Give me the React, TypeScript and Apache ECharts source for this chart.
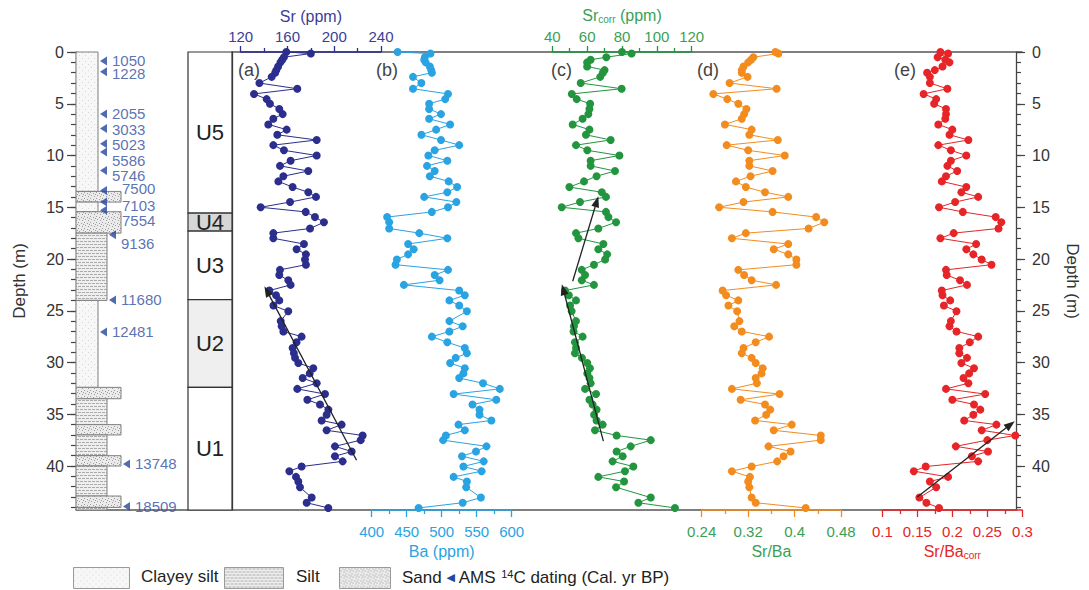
import React, { useEffect, useRef } from 'react';
import * as echarts from 'echarts';

// ---------- DATA ----------
const depth = [
  0, 0.15, 0.5, 0.75, 1.0, 1.4, 1.75, 2.0, 2.4, 3.0,
  3.55, 4.05, 4.55, 5.0, 5.5, 6.0, 6.45, 7.0, 7.5, 8.0,
  8.5, 9.0, 9.5, 10.0, 10.5, 11.0, 11.5, 12.0, 12.5, 13.05,
  13.55, 14.0, 14.5, 15.0, 15.45, 15.95, 16.45, 17.05, 17.5, 18.0,
  18.55, 19.05, 19.55, 20.05, 20.55, 21.05, 21.55, 22.05, 22.5, 23.05,
  23.5, 24.0, 24.5, 25.05, 26.0, 26.5, 27.0, 27.5, 28.05, 28.6,
  29.1, 29.55, 30.05, 30.55, 31.05, 31.5, 32.0, 32.55, 33.05, 33.6,
  34.05, 34.55, 35.05, 35.6, 36.0, 36.55, 37.05, 37.5, 38.1, 38.6,
  39.05, 39.55, 40.05, 40.5, 41.05, 41.5, 42.05, 43.05, 43.55, 44.05,
];
const sr = [
  159, 180, 157, 155.5, 154, 152, 150.5, 149.5, 146.5, 136,
  168.4, 131.4, 142.2, 145, 153, 155.9, 147.9, 143.6, 159.3, 151.3,
  185, 147.9, 157, 185, 162.7, 153.6, 177.8, 156.5, 152.2, 164.4,
  177.8, 184.4, 162.2, 137.1, 175.6, 183.5, 191.2, 179.3, 147.9, 147.9,
  174.1, 167.8, 175.8, 175, 175.8, 153.6, 153, 160.7, 162.7, 144.5,
  150.2, 153, 148, 160.7, 154.2, 155, 156.5, 172.1, 167.8, 164.4,
  165.5, 166.5, 169.3, 182.1, 179, 173, 185, 168.4, 192.1, 177,
  187.8, 195, 193.5, 189.2, 206.3, 193.5, 224.3, 222.6, 200.6, 214.9,
  200.6, 207.2, 172.1, 161.6, 167.3, 169.3, 170.7, 180.7, 176.4, 194.9,
];
const ba = [
  437, 484, 476, 475, 477, 483, 485, 486, 459, 471,
  459, 509, 505, 482, 482, 499, 482, 512, 492, 471,
  499, 525, 490, 481, 508, 479, 490, 483, 510, 522,
  508, 475, 521, 509, 486, 422, 425, 425, 468, 508,
  452, 460, 452, 436, 434, 509, 490, 497, 446, 525,
  533, 511, 525, 536, 511, 530, 511, 486, 508, 533,
  536, 520, 512, 533, 531, 525, 559, 583, 517, 578,
  544, 554, 554, 571, 524, 533, 506, 502, 564, 549,
  529, 560, 531, 557, 517, 536, 535, 556, 530, 467,
];
const srCorr = [
  80, 85.5, 71, 62, 60, 60, 70, 69, 67.5, 56.3,
  79.8, 51.2, 54, 61.7, 61.3, 60.7, 57.4, 51.7, 61.3, 59.3,
  73.5, 53.6, 60.1, 78.5, 62, 62, 76, 65.4, 58.2, 49.8,
  68.4, 70.8, 55.9, 45.4, 70.8, 72.2, 76.6, 66.4, 53.6, 55,
  69.3, 66.4, 71.5, 70.3, 63.9, 56.9, 58.8, 56.9, 63.9, 47.3,
  49.5, 53.6, 50.2, 51.1, 53.6, 52.4, 52.2, 57.4, 53, 53.6,
  53, 57, 60.1, 61.6, 60.1, 61.3, 62, 58.8, 65.1, 61.3,
  63.1, 65.4, 64, 65.4, 68.9, 64.5, 76.9, 96.5, 85, 76.9,
  80.4, 74.6, 86.5, 81.7, 66.4, 81.2, 76.6, 96.5, 89.4, 110.4,
];
const srBa = [
  0.367, 0.372, 0.329, 0.325, 0.320, 0.312, 0.309, 0.309, 0.319, 0.288,
  0.369, 0.260, 0.284, 0.303, 0.317, 0.313, 0.309, 0.280, 0.326, 0.322,
  0.371, 0.283, 0.320, 0.383, 0.322, 0.322, 0.362, 0.324, 0.299, 0.316,
  0.349, 0.389, 0.312, 0.270, 0.362, 0.437, 0.451, 0.424, 0.316, 0.292,
  0.389, 0.364, 0.389, 0.403, 0.403, 0.303, 0.313, 0.326, 0.368, 0.276,
  0.282, 0.303, 0.286, 0.301, 0.305, 0.296, 0.309, 0.356, 0.333, 0.312,
  0.309, 0.326, 0.333, 0.345, 0.343, 0.333, 0.335, 0.292, 0.374, 0.307,
  0.349, 0.358, 0.351, 0.332, 0.395, 0.364, 0.445, 0.445, 0.355, 0.393,
  0.381, 0.370, 0.326, 0.292, 0.323, 0.320, 0.322, 0.326, 0.333, 0.419,
];
const srBaCorr = [
  0.183, 0.194, 0.179, 0.190, 0.196, 0.186, 0.175, 0.164, 0.168, 0.168,
  0.193, 0.159, 0.177, 0.174, 0.191, 0.191, 0.190, 0.180, 0.200, 0.196,
  0.223, 0.180, 0.198, 0.220, 0.198, 0.193, 0.207, 0.191, 0.185, 0.220,
  0.213, 0.237, 0.204, 0.181, 0.215, 0.262, 0.270, 0.266, 0.202, 0.183,
  0.234, 0.220, 0.230, 0.242, 0.256, 0.191, 0.192, 0.211, 0.221, 0.185,
  0.186, 0.197, 0.188, 0.206, 0.198, 0.196, 0.206, 0.237, 0.225, 0.210,
  0.210, 0.221, 0.213, 0.231, 0.224, 0.216, 0.223, 0.191, 0.247, 0.200,
  0.231, 0.240, 0.230, 0.217, 0.263, 0.242, 0.290, 0.250, 0.205, 0.251,
  0.228, 0.237, 0.162, 0.145, 0.194, 0.168, 0.177, 0.153, 0.163, 0.181,
];

// lithology: 0 clayey silt, 1 silt, 2 sand
const lithNames = ['Clayey silt', 'Silt', 'Sand'];
const lithTop = [0, 13.47, 14.5, 15.43, 17.5, 24.0, 32.4, 33.5, 36.0, 37.0, 39.0, 40.0, 42.9, 44.0];
const lithBottom = [13.47, 14.5, 15.43, 17.5, 24.0, 32.4, 33.5, 36.0, 37.0, 39.0, 40.0, 42.9, 44.0, 44.25];
const lithType = [0, 2, 0, 2, 1, 0, 2, 1, 2, 1, 2, 1, 2, 1];

const unitNames = ['U5', 'U4', 'U3', 'U2', 'U1'];
const unitTop = [0, 15.56, 17.3, 23.93, 32.4];
const unitBottom = [15.56, 17.3, 23.93, 32.4, 44.25];

const datingDepth = [0.87, 1.9, 6.0, 7.4, 8.86, 9.66, 11.44, 13.37, 14.5, 15.3, 17.65, 23.95, 27.05, 39.8, 43.9];
const datingAge = ['1050', '1228', '2055', '3033', '5023', '5586', '5746', '7500', '7103', '7554', '9136', '11680', '12481', '13748', '18509'];

const depthTicks = [0, 5, 10, 15, 20, 25, 30, 35, 40];
const depthMinorTicks = [
  0, 1, 2, 3, 4, 5, 6, 7, 8, 9, 10, 11, 12, 13, 14, 15, 16, 17, 18, 19, 20, 21, 22,
  23, 24, 25, 26, 27, 28, 29, 30, 31, 32, 33, 34, 35, 36, 37, 38, 39, 40, 41, 42, 43, 44,
];

// trend arrows [x from, depth from, x to, depth to]
const arrowSr = [[219.1, 39.45, 142.5, 23.1]];
const arrowSrCorr = [[69.3, 37.6, 46.3, 22.95], [51.7, 22.15, 65.5, 14.45]];
const arrowSrBaCorr = [[0.150, 43.0, 0.283, 36.0]];

// ---------- STYLE ----------
const FONT = '"Liberation Sans", Arial, Helvetica, sans-serif';
const DMAX = 44.25;
const TOP = 52;
const H = 458;
const C_SR = '#2b2e8c';
const C_SR_TXT = '#3b3e98';
const C_BA = '#2aa3e2';
const C_SRC = '#23953f';
const C_SRC_TXT = '#3a9f56';
const C_SRBA = '#f28c1e';
const C_SRBAC = '#e52528';
const C_DATE = '#24469b';
const C_DATE_TXT = '#2f4da0';
const lithWidth = [22, 31, 45];
const unitFill = ['#ffffff', '#d6d6d6', '#ffffff', '#efefef', '#ffffff'];
const dateLabelOffset = [
  [0, -1], [0, 2], [0, -1], [0, 1], [0, 1], [0, 9], [0, 5], [10, -2], [10, 3], [10, 10], [0, 9], [0, 0], [0, 0], [0, 0], [0, 0],
];

function makePattern(kind: number) {
  const c = document.createElement('canvas');
  const w = kind === 1 ? 8 : 6;
  const h = 6;
  c.width = w; c.height = h;
  const ctx = c.getContext('2d')!;
  if (kind === 0) {
    ctx.fillStyle = '#f7f7f7'; ctx.fillRect(0, 0, w, h);
    ctx.fillStyle = '#d6d6d6';
    ctx.fillRect(1, 1, 1, 1); ctx.fillRect(4, 4, 1, 1);
  } else if (kind === 1) {
    ctx.fillStyle = '#eeeeee'; ctx.fillRect(0, 0, w, h);
    ctx.fillStyle = '#ababab';
    ctx.fillRect(0, 1, 3, 1); ctx.fillRect(4, 1, 3, 1);
    ctx.fillRect(2, 4, 3, 1); ctx.fillRect(6, 4, 2, 1); ctx.fillRect(0, 4, 1, 1);
  } else {
    ctx.fillStyle = '#ebebeb'; ctx.fillRect(0, 0, w, h);
    ctx.fillStyle = '#9c9c9c';
    ctx.fillRect(0, 0, 1, 1); ctx.fillRect(3, 1, 1, 1); ctx.fillRect(1, 3, 1, 1);
    ctx.fillRect(4, 4, 1, 1); ctx.fillRect(5, 2, 1, 1);
  }
  return { image: c, repeat: 'repeat', imageWidth: w, imageHeight: h } as any;
}

function lithAt(d: number) {
  for (let i = 0; i < lithTop.length; i++) {
    if (d >= lithTop[i] && d < lithBottom[i]) return lithType[i];
  }
  return 0;
}

const fmt = (v: number) => String(Math.round(v * 1000) / 1000);

function panelX(gridIndex: number, position: string, min: number, max: number, interval: number,
  lineColor: string, labelColor: string, name: string, nameColor: string) {
  const top = position === 'top';
  return {
    type: 'value', gridIndex, position, min, max, interval,
    axisLine: { show: true, onZero: false, lineStyle: { color: lineColor, width: 1.5 } },
    axisTick: { show: true, length: top ? 6 : 7, lineStyle: { color: lineColor, width: 1.3 } },
    minorTick: { show: true, splitNumber: 2, length: 4, lineStyle: { color: lineColor, width: 1.3 } },
    axisLabel: { color: labelColor, fontSize: 15, margin: top ? 8 : 14, fontFamily: FONT, formatter: fmt },
    splitLine: { show: false }, minorSplitLine: { show: false },
    name, nameLocation: 'middle', nameGap: top ? 25 : 31,
    nameTextStyle: {
      color: nameColor, fontSize: 16, fontFamily: FONT,
      rich: {
        a: { color: nameColor, fontSize: 16, fontFamily: FONT, lineHeight: 18 },
        b: { color: nameColor, fontSize: 10, fontFamily: FONT, lineHeight: 10, verticalAlign: 'bottom' },
      },
    },
    z: 6,
  };
}

function hiddenY(gridIndex: number) {
  return { type: 'value', gridIndex, inverse: true, min: 0, max: DMAX, show: false };
}

function depthY(position: string, major: boolean) {
  const left = position === 'left';
  return {
    type: 'value', gridIndex: 0, position, inverse: true, min: 0, max: DMAX,
    interval: major ? 5 : 1, offset: 0,
    axisLine: { show: major, onZero: false, lineStyle: { color: '#444', width: 1.3 } },
    axisTick: {
      show: true, length: major ? 9 : 5, lineStyle: { color: '#444', width: 1.2 },
      customValues: major ? depthTicks : depthMinorTicks,
    },
    axisLabel: major
      ? { show: true, fontSize: 16, color: '#333', fontFamily: FONT, margin: left ? 12 : 16, customValues: depthTicks,
          formatter: (v: number) => (v % 5 === 0 ? String(v) : '') }
      : { show: false },
    splitLine: { show: false },
    name: major ? 'Depth (m)' : '',
    nameLocation: 'middle', nameGap: 48, nameRotate: left ? 90 : -90,
    nameTextStyle: { fontSize: 17, color: '#333', fontFamily: FONT },
  };
}

function lineSeries(name: string, xi: number, yi: number, vals: number[], color: string, arrows: number[][]) {
  const s: any = {
    type: 'line', name, xAxisIndex: xi, yAxisIndex: yi,
    data: depth.map((d, i) => [vals[i], d]),
    symbol: 'circle', symbolSize: 8, showSymbol: true,
    lineStyle: { color, width: 1 }, itemStyle: { color }, clip: false, z: 4,
  };
  if (arrows.length) {
    s.markLine = {
      silent: true, symbol: ['none', 'triangle'], symbolSize: [8, 11],
      lineStyle: { color: '#222', width: 1.3, type: 'solid' }, label: { show: false },
      data: arrows.map((a) => [{ coord: [a[0], a[1]] }, { coord: [a[2], a[3]] }]),
    };
  }
  return s;
}

export default function App() {
  const ref = useRef<HTMLDivElement>(null);
  useEffect(() => {
    const chart = echarts.init(ref.current!, null, { renderer: 'svg' });
    const patterns = [makePattern(0), makePattern(1), makePattern(2)];

    const grids = [
      { left: 76, top: TOP, width: 946, height: H },
      { left: 232, top: TOP, width: 790, height: H },
      { left: 76, top: TOP, width: 156, height: H },
      { left: 240.7, top: TOP, width: 140.3, height: H },
      { left: 371.7, top: TOP, width: 140, height: H },
      { left: 552.3, top: TOP, width: 139.4, height: H },
      { left: 701.7, top: TOP, width: 139.4, height: H },
      { left: 882.3, top: TOP, width: 140, height: H },
    ];

    const xAxis: any[] = [
      { type: 'value', gridIndex: 0, position: 'bottom', min: 0, max: 1,
        axisLine: { show: true, onZero: false, lineStyle: { color: '#555', width: 1.5 } },
        axisTick: { show: false }, axisLabel: { show: false }, splitLine: { show: false } },
      { type: 'value', gridIndex: 1, position: 'top', min: 0, max: 1,
        axisLine: { show: true, onZero: false, lineStyle: { color: '#555', width: 1.5 } },
        axisTick: { show: false }, axisLabel: { show: false }, splitLine: { show: false } },
      { type: 'value', gridIndex: 2, min: 0, max: 156, show: false },
      panelX(3, 'top', 120, 240, 40, C_SR, C_SR_TXT, 'Sr (ppm)', C_SR_TXT),
      panelX(4, 'bottom', 400, 600, 50, C_BA, C_BA, 'Ba (ppm)', C_BA),
      panelX(5, 'top', 40, 120, 20, C_SRC, C_SRC_TXT, '{a|Sr}{b|corr}{a| (ppm)}', C_SRC_TXT),
      panelX(6, 'bottom', 0.24, 0.48, 0.08, C_SRBA, C_SRC_TXT, 'Sr/Ba', C_SRC_TXT),
      panelX(7, 'bottom', 0.1, 0.3, 0.05, C_SRBAC, C_SRBAC, '{a|Sr/Ba}{b|corr}', C_SRBAC),
    ];

    const yAxis: any[] = [
      depthY('left', true),
      depthY('left', false),
      depthY('right', true),
      depthY('right', false),
      { type: 'value', gridIndex: 1, position: 'left', inverse: true, min: 0, max: DMAX,
        axisLine: { show: true, onZero: false, lineStyle: { color: '#444', width: 1.3 } },
        axisTick: { show: false }, axisLabel: { show: false }, splitLine: { show: false } },
      hiddenY(2), hiddenY(3), hiddenY(4), hiddenY(5), hiddenY(6), hiddenY(7),
    ];

    const series: any[] = [
      {
        type: 'custom', name: 'lithology', xAxisIndex: 2, yAxisIndex: 5,
        data: lithTop.map((t, i) => [t, lithBottom[i], lithType[i]]),
        renderItem: (params: any, api: any) => {
          const t = api.value(2);
          const p0 = api.coord([0, api.value(0)]);
          const p1 = api.coord([lithWidth[t], api.value(1)]);
          return {
            type: 'rect',
            shape: { x: p0[0], y: p0[1], width: p1[0] - p0[0], height: p1[1] - p0[1] },
            style: { fill: patterns[t], stroke: '#808080', lineWidth: 1 },
          };
        },
        z: 2,
      },
      {
        type: 'custom', name: 'units', xAxisIndex: 2, yAxisIndex: 5,
        data: unitTop.map((t, i) => [t, unitBottom[i], i]),
        renderItem: (params: any, api: any) => {
          const i = api.value(2);
          const p0 = api.coord([112, api.value(0)]);
          const p1 = api.coord([156, api.value(1)]);
          return {
            type: 'group',
            children: [
              { type: 'rect', shape: { x: p0[0], y: p0[1], width: p1[0] - p0[0], height: p1[1] - p0[1] },
                style: { fill: unitFill[i], stroke: '#333', lineWidth: 1.2 } },
              { type: 'text', style: { text: unitNames[i], x: (p0[0] + p1[0]) / 2, y: (p0[1] + p1[1]) / 2,
                textAlign: 'center', textVerticalAlign: 'middle', fontSize: 22, fill: '#222', fontFamily: FONT } },
            ],
          };
        },
        z: 2,
      },
      {
        type: 'scatter', name: 'AMS 14C', xAxisIndex: 2, yAxisIndex: 5,
        symbol: 'triangle', symbolRotate: 90, symbolSize: [9, 7],
        itemStyle: { color: C_DATE },
        label: { show: true, position: 'right', distance: 5, formatter: '{b}', color: C_DATE_TXT,
          fontSize: 15, lineHeight: 11, fontFamily: FONT },
        data: datingDepth.map((d, i) => ({
          name: datingAge[i],
          value: [lithWidth[lithAt(d)] + 5.5, d],
          label: { offset: dateLabelOffset[i] },
        })),
        z: 5,
      },
      lineSeries('Sr', 3, 6, sr, C_SR, arrowSr),
      lineSeries('Ba', 4, 7, ba, C_BA, []),
      lineSeries('Sr corr', 5, 8, srCorr, C_SRC, arrowSrCorr),
      lineSeries('Sr/Ba', 6, 9, srBa, C_SRBA, []),
      lineSeries('Sr/Ba corr', 7, 10, srBaCorr, C_SRBAC, arrowSrBaCorr),
    ];

    const panelLetters = ['(a)', '(b)', '(c)', '(d)', '(e)'];
    const panelLetterX = [238, 376, 551, 697, 894];
    const legendBoxX = [73, 224, 339];
    const legendBoxW = [56, 59, 51];
    const legendTextX = [141, 296, 402];

    const graphic: any[] = [
      ...panelLetters.map((t, i) => ({
        type: 'text', left: panelLetterX[i], top: 61,
        style: { text: t, fontSize: 18, fill: '#444', fontFamily: FONT },
      })),
      ...lithNames.map((n, i) => ({
        type: 'rect', left: legendBoxX[i], top: 567,
        shape: { width: legendBoxW[i], height: 21 },
        style: { fill: patterns[i], stroke: '#9a9a9a', lineWidth: 1 },
      })),
      ...lithNames.map((n, i) => ({
        type: 'text', left: legendTextX[i], top: 568,
        style: i < 2
          ? { text: n, fontSize: 17, fill: '#222', fontFamily: FONT }
          : {
              text: '{t|Sand }{tri|◀}{t| AMS }{sup|14}{t|C dating (Cal. yr BP)}',
              fontFamily: FONT,
              rich: {
                t: { fontSize: 17, fill: '#222', fontFamily: FONT, lineHeight: 19 },
                tri: { fontSize: 11, fill: C_DATE, fontFamily: '"DejaVu Sans", sans-serif', lineHeight: 19 },
                sup: { fontSize: 11, fill: '#222', fontFamily: FONT, verticalAlign: 'top', lineHeight: 12 },
              },
            },
      })),
    ];

    chart.setOption({
      animation: false,
      backgroundColor: '#ffffff',
      textStyle: { fontFamily: FONT },
      grid: grids,
      xAxis,
      yAxis,
      series,
      graphic,
    });
    return () => chart.dispose();
  }, []);
  return <div ref={ref} style={{ position: 'fixed', left: 0, top: 0, width: 1089, height: 590, background: '#fff' }} />;
}
